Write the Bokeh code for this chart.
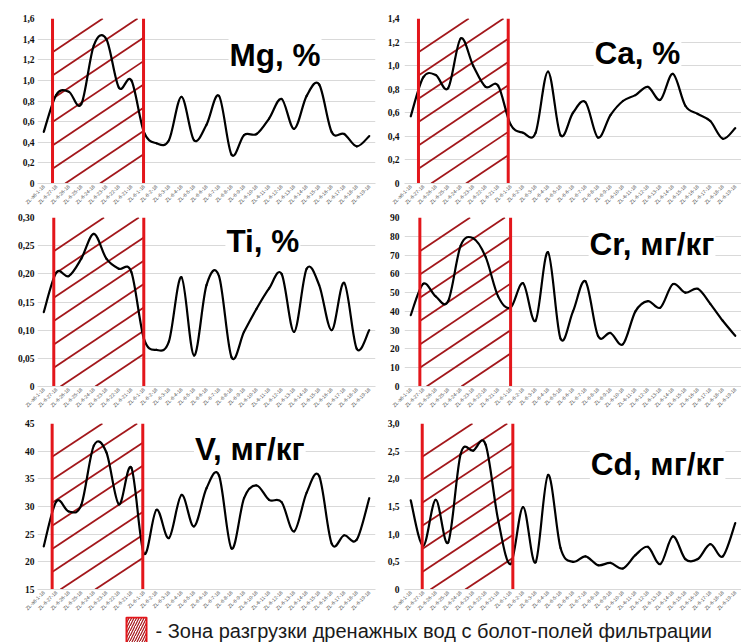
import math
from bokeh.plotting import figure
from bokeh.layouts import column, row
from bokeh.models import FixedTicker, Range1d, Label, ColumnDataSource, CustomJSTickFormatter
from bokeh.core.properties import value
from bokeh.embed import file_html
from bokeh.resources import INLINE

# Sampling points along the profile
samples = ["ZL-a6-1-18", "ZL-6-27-18", "ZL-6-26-18", "ZL-6-25-18", "ZL-6-24-18",
           "ZL-6-23-18", "ZL-6-22-18", "ZL-6-21-18", "ZL-6-1-18", "ZL-6-2-18",
           "ZL-6-3-18", "ZL-6-4-18", "ZL-6-5-18", "ZL-6-6-18", "ZL-6-7-18",
           "ZL-6-8-18", "ZL-6-9-18", "ZL-6-10-18", "ZL-6-11-18", "ZL-6-12-18",
           "ZL-6-13-18", "ZL-6-14-18", "ZL-6-15-18", "ZL-6-16-18", "ZL-6-17-18",
           "ZL-6-18-18", "ZL-6-19-18"]

mg = [0.50, 0.86, 0.89, 0.77, 1.34, 1.40, 0.93, 1.00, 0.50, 0.39, 0.42, 0.84, 0.42, 0.57,
      0.85, 0.28, 0.47, 0.48, 0.63, 0.82, 0.53, 0.85, 0.96, 0.50, 0.48, 0.36, 0.46]
ca = [0.57, 0.90, 0.92, 0.81, 1.23, 1.00, 0.82, 0.83, 0.50, 0.43, 0.43, 0.95, 0.41, 0.60,
      0.69, 0.39, 0.58, 0.70, 0.75, 0.82, 0.71, 0.93, 0.66, 0.59, 0.53, 0.38, 0.47]
ti = [0.132, 0.202, 0.196, 0.227, 0.271, 0.227, 0.209, 0.203, 0.085, 0.065, 0.080, 0.194,
      0.055, 0.180, 0.196, 0.052, 0.097, 0.138, 0.174, 0.200, 0.097, 0.209, 0.180, 0.100,
      0.184, 0.067, 0.100]
cr = [38, 54.7, 48, 45.5, 75, 79, 69, 48, 42, 55, 35, 71.5, 25.5, 40, 56, 27, 28.5, 22.5,
      40, 45.5, 42, 54.5, 50, 52, 44, 35, 27]
v = [22.8, 30.9, 29.1, 30.3, 41.0, 39.8, 30.4, 37.0, 21.5, 29.4, 24.3, 32.1, 26.4, 33.3,
     35.6, 22.4, 31.5, 33.8, 31.2, 30.8, 25.5, 32.5, 35.5, 23.3, 24.8, 24.0, 31.5]
cd = [1.61, 0.79, 1.62, 0.85, 2.45, 2.51, 2.62, 1.26, 0.46, 1.49, 0.49, 2.07, 0.75, 0.50,
      0.60, 0.44, 0.48, 0.38, 0.62, 0.77, 0.46, 0.96, 0.55, 0.55, 0.82, 0.60, 1.20]

titles = ["Mg, %", "Ca, %", "Ti, %", "Cr, мг/кг", "V, мг/кг", "Cd, мг/кг"]
legend_text = "- Зона разгрузки дренажных вод с болот-полей фильтрации"

# y axis: (min, max, step, decimals)
y_axes = [(0, 1.6, 0.2, 1), (0, 1.4, 0.2, 1), (0, 0.30, 0.05, 2),
          (0, 90, 10, 0), (15, 45, 5, 0), (0, 3.0, 0.5, 1)]
# discharge zone bounds along the sample axis
zones = [(0.70, 7.97), (0.62, 7.81), (0.80, 7.99), (0.73, 8.00), (0.67, 7.91), (0.92, 8.18)]
# title anchor (sample axis position, value)
title_pos = [(14.76, 1.25), (14.65, 1.11), (14.51, 0.258), (14.25, 75.7), (12.0, 40.4), (14.35, 2.27)]

# layout geometry
COL_W = [376, 365]
COL_BL = [37, 28]
COL_BR = [1, 0]
COL_STANDOFF = [3, 5]
ROW_BT = [18, 5, 7]
ROW_FH = [165, 169, 168]
ROW_BB = [29, 30, 25]
LEGEND_H = 26

XR = (-0.5, 26.5)
RED = "#e3161b"
HATCH = "#a3171b"
GRID = "#d9d9d9"

HATCH_SLOPE = 0.67
HATCH_GAP = 23.3
HATCH_OFFSET = 33.7


def bezier_source(ys):
    """Excel-like smoothing: cubic Bezier pieces through each point."""
    xs = list(range(len(ys)))
    n = len(xs)
    d = dict(x0=[], y0=[], x1=[], y1=[], cx0=[], cy0=[], cx1=[], cy1=[])
    for i in range(n - 1):
        im = max(i - 1, 0)
        ip = min(i + 2, n - 1)
        d["x0"].append(xs[i]); d["y0"].append(ys[i])
        d["x1"].append(xs[i + 1]); d["y1"].append(ys[i + 1])
        d["cx0"].append(xs[i] + (xs[i + 1] - xs[im]) / 6.0)
        d["cy0"].append(ys[i] + (ys[i + 1] - ys[im]) / 6.0)
        d["cx1"].append(xs[i + 1] - (xs[ip] - xs[i]) / 6.0)
        d["cy1"].append(ys[i + 1] - (ys[ip] - ys[i]) / 6.0)
    return ColumnDataSource(d)


def hatch_source(zl, zr, yr, fw, fh):
    sx = fw / (XR[1] - XR[0])
    sy = fh / (yr[1] - yr[0])
    L = (zl - XR[0]) * sx
    R = (zr - XR[0]) * sx
    B, T = 0.0, float(fh)
    d = dict(x0=[], y0=[], x1=[], y1=[])
    for k in range(8):
        b = T - HATCH_OFFSET - HATCH_GAP * k
        xa = max(L, L + (B - b) / HATCH_SLOPE)
        xb = min(R, L + (T - b) / HATCH_SLOPE)
        if xb - xa < 2:
            continue
        ya = b + HATCH_SLOPE * (xa - L)
        yb = b + HATCH_SLOPE * (xb - L)
        d["x0"].append(XR[0] + xa / sx); d["y0"].append(yr[0] + ya / sy)
        d["x1"].append(XR[0] + xb / sx); d["y1"].append(yr[0] + yb / sy)
    return ColumnDataSource(d)


def make_panel(idx, ys):
    r, c = divmod(idx, 2)
    ymin, ymax, ystep, dec = y_axes[idx]
    fw = COL_W[c] - COL_BL[c] - COL_BR[c]
    fh = ROW_FH[r]
    p = figure(width=COL_W[c], height=ROW_BT[r] + fh + ROW_BB[r],
               output_backend="svg", toolbar_location=None,
               x_range=Range1d(*XR), y_range=Range1d(ymin, ymax),
               min_border_left=COL_BL[c], min_border_right=COL_BR[c],
               min_border_top=ROW_BT[r], min_border_bottom=ROW_BB[r])
    p.outline_line_color = None
    p.background_fill_color = "white"
    p.border_fill_color = "white"
    p.xgrid.grid_line_color = None
    p.ygrid.grid_line_color = GRID
    p.ygrid.grid_line_width = 1

    nt = int(round((ymax - ymin) / ystep))
    yt = [round(ymin + ystep * i, 4) for i in range(nt + 1)]
    p.yaxis.ticker = FixedTicker(ticks=yt)
    p.yaxis.formatter = CustomJSTickFormatter(
        code="return tick == 0 ? '0' : tick.toFixed(%d).replace('.', ',');" % dec)
    p.yaxis.axis_line_color = None
    p.yaxis.major_tick_line_color = None
    p.yaxis.major_tick_out = 0
    p.yaxis.major_tick_in = 0
    p.yaxis.minor_tick_line_color = None
    p.yaxis.minor_tick_out = 0
    p.yaxis.major_label_standoff = COL_STANDOFF[c]
    p.yaxis.major_label_text_font = "Liberation Sans Narrow"
    p.yaxis.major_label_text_font_style = "bold"
    p.yaxis.major_label_text_font_size = "9.5px"
    p.yaxis.major_label_text_color = "#111111"

    p.xaxis.ticker = FixedTicker(ticks=list(range(len(samples))))
    p.xaxis.major_label_overrides = {i: s for i, s in enumerate(samples)}
    p.xaxis.major_label_orientation = math.pi / 4
    p.xaxis.major_label_text_font = "Liberation Sans"
    p.xaxis.major_label_text_font_size = "5px"
    p.xaxis.major_label_text_color = "#4d4d4d"
    p.xaxis.major_label_standoff = 2
    p.xaxis.axis_label_standoff = 0
    p.xaxis.axis_line_color = GRID
    p.xaxis.major_tick_line_color = None
    p.xaxis.major_tick_out = 0
    p.xaxis.major_tick_in = 0
    p.xaxis.minor_tick_line_color = None
    p.xaxis.minor_tick_out = 0
    p.xaxis.minor_tick_in = 0

    zl, zr = zones[idx]
    p.segment(x0="x0", y0="y0", x1="x1", y1="y1",
              source=hatch_source(zl, zr, (ymin, ymax), fw, fh),
              line_color=HATCH, line_width=1.8)

    p.bezier(x0="x0", y0="y0", x1="x1", y1="y1", cx0="cx0", cy0="cy0", cx1="cx1", cy1="cy1",
             source=bezier_source(ys), line_color="black", line_width=2.2, line_cap="round")

    p.segment(x0=[zl, zr], y0=[ymin, ymin], x1=[zl, zr], y1=[ymax, ymax],
              line_color=RED, line_width=3)

    tx, ty = title_pos[idx]
    p.add_layout(Label(x=tx, y=ty, text=titles[idx], text_font="Liberation Sans",
                       text_font_style="bold", text_font_size="31.5px", text_color="black",
                       text_baseline="alphabetic", background_fill_color="white",
                       padding=1, level="underlay"))
    return p


series = [mg, ca, ti, cr, v, cd]
panels = [make_panel(i, s) for i, s in enumerate(series)]

# legend strip
lg = figure(width=741, height=LEGEND_H, output_backend="svg", toolbar_location=None,
            x_range=Range1d(0, 741), y_range=Range1d(0, LEGEND_H),
            min_border=0, x_axis_location=None, y_axis_location=None)
lg.outline_line_color = None
lg.xgrid.visible = False
lg.ygrid.visible = False
lg.quad(left=[126], right=[146], bottom=[-4], top=[LEGEND_H - 1], fill_color=None,
        line_color=RED, line_width=2, hatch_pattern="/", hatch_color=HATCH,
        hatch_scale=5, hatch_weight=1.2)
lg.text(x=[155], y=[LEGEND_H / 2 - 1], text=[legend_text], text_font=value("Liberation Sans"),
        text_font_size="20px", text_baseline="middle", text_color="#1a1a1a")

layout = column(row(panels[0], panels[1]), row(panels[2], panels[3]),
                row(panels[4], panels[5]), lg)

open("out.html", "w").write(file_html(layout, INLINE))
